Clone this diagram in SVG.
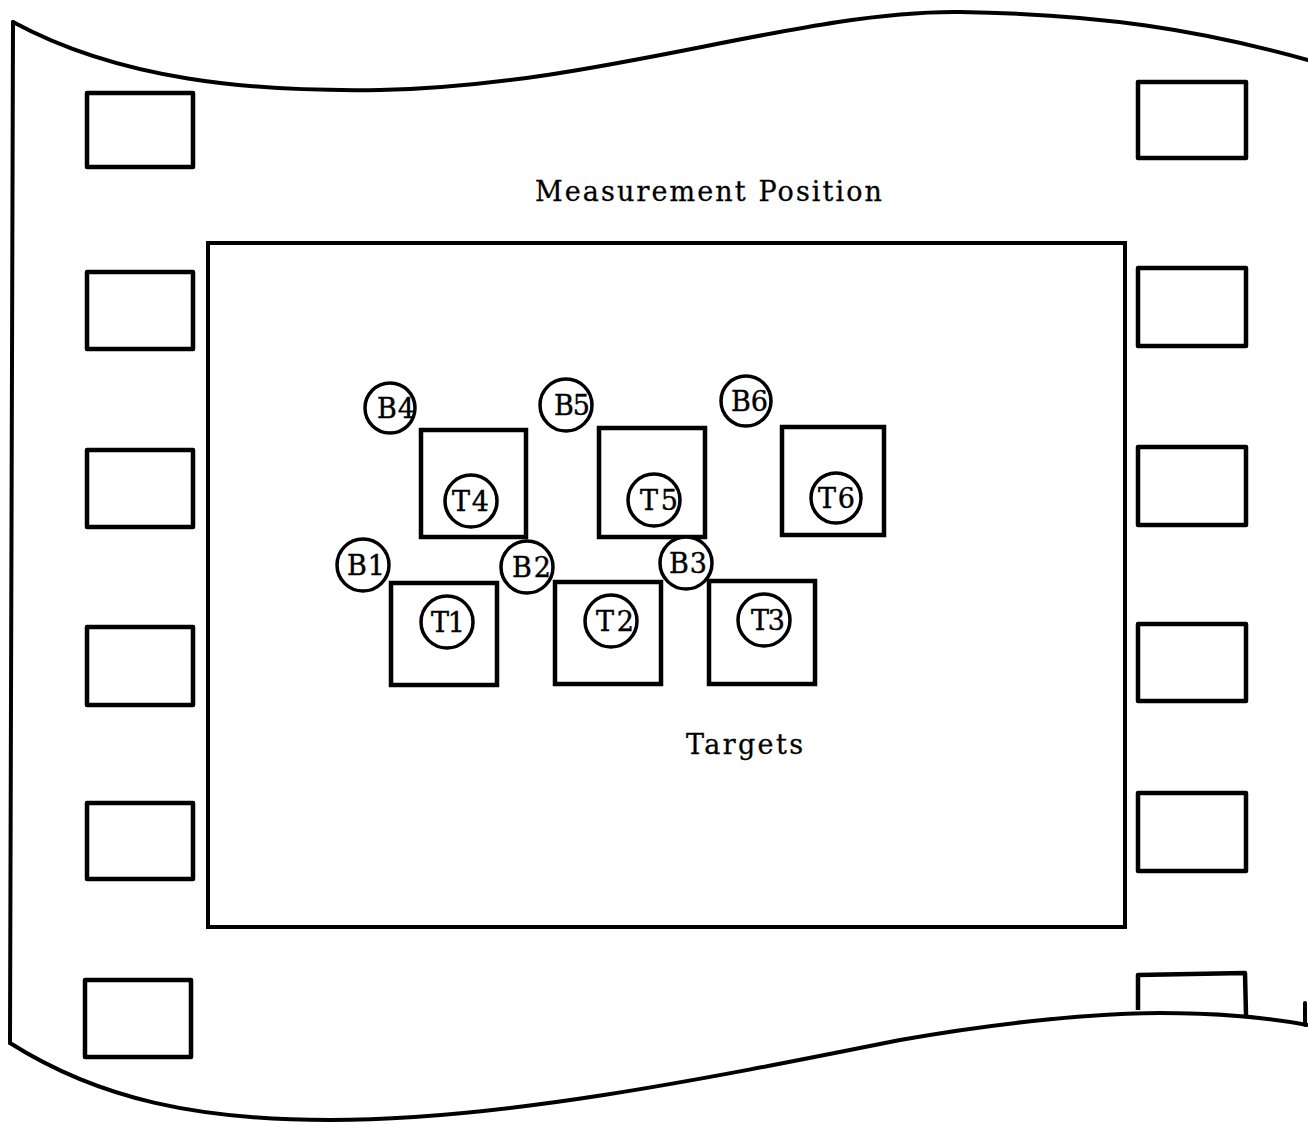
<svg xmlns="http://www.w3.org/2000/svg" width="1308" height="1124" viewBox="0 0 1308 1124">
<style>
.edge{fill:none;stroke:#000;stroke-width:4;stroke-linecap:round;stroke-linejoin:round}
.hole{fill:none;stroke:#000;stroke-width:4.5;stroke-linejoin:round}
.frame{fill:none;stroke:#000;stroke-width:4}
.sq{fill:none;stroke:#000;stroke-width:4.5}
.c{fill:#fff;stroke:#000;stroke-width:3.5}
.lbl{font-family:"DejaVu Serif","Liberation Serif",serif;font-size:27px;fill:#000;stroke:#000;stroke-width:0.4}
.cap{font-family:"DejaVu Serif","Liberation Serif",serif;font-size:27px;fill:#000;stroke:#000;stroke-width:0.3}
</style>
<rect width="1308" height="1124" fill="#fff"/>
<g id="film">
<path class="edge" d="M13,22 C120,80 250,92 380,90 C600,86 800,10 960,12 C1100,14 1200,30 1308,60"/>
<path class="edge" d="M13,22 L10,1043"/>
<path class="edge" d="M10,1043 C100,1100 200,1120 330,1120 C500,1120 700,1080 900,1040 C1000,1022 1100,1013 1160,1013 C1220,1013 1270,1018 1308,1025"/>
<path class="edge" d="M1305,1003 L1305,1025"/>
</g>
<g id="holes">
<rect class="hole" x="87" y="93" width="106" height="74"/>
<rect class="hole" x="87" y="272" width="106" height="77"/>
<rect class="hole" x="87" y="450" width="106" height="77"/>
<rect class="hole" x="87" y="627" width="106" height="78"/>
<rect class="hole" x="87" y="803" width="106" height="76"/>
<rect class="hole" x="85" y="980" width="106" height="77"/>
<rect class="hole" x="1138" y="82" width="108" height="76"/>
<rect class="hole" x="1138" y="268" width="108" height="78"/>
<rect class="hole" x="1138" y="447" width="108" height="78"/>
<rect class="hole" x="1138" y="624" width="108" height="77"/>
<rect class="hole" x="1138" y="793" width="108" height="78"/>
<path class="hole" d="M1138,1010 L1138,975 L1245,973 L1246,1015"/>
</g>
<g id="measurement-position">
<rect class="frame" x="208" y="243" width="917" height="684"/>
<text class="cap" x="535" y="201" textLength="347" lengthAdjust="spacing">Measurement Position</text>
</g>
<g id="targets-label">
<text class="cap" x="686" y="754" textLength="117" lengthAdjust="spacing">Targets</text>
</g>
<g id="T4"><rect class="sq" x="421" y="430" width="105" height="107"/><circle class="c" cx="471" cy="501" r="26"/><text class="lbl" x="452" y="511" textLength="37">T4</text></g>
<g id="T5"><rect class="sq" x="599" y="428" width="106" height="109"/><circle class="c" cx="654" cy="500" r="26"/><text class="lbl" x="640" y="510" textLength="38">T5</text></g>
<g id="T6"><rect class="sq" x="782" y="427" width="102" height="108"/><circle class="c" cx="836" cy="498" r="25"/><text class="lbl" x="818" y="508" textLength="37">T6</text></g>
<g id="T1"><rect class="sq" x="391" y="583" width="106" height="102"/><circle class="c" cx="447" cy="622" r="26"/><text class="lbl" x="431" y="632" textLength="34">T1</text></g>
<g id="T2"><rect class="sq" x="555" y="582" width="106" height="102"/><circle class="c" cx="611" cy="621" r="26"/><text class="lbl" x="596" y="631" textLength="38">T2</text></g>
<g id="T3"><rect class="sq" x="709" y="581" width="106" height="103"/><circle class="c" cx="764" cy="620" r="26"/><text class="lbl" x="751" y="630" textLength="34">T3</text></g>
<g id="B4"><circle class="c" cx="390" cy="408" r="25"/><text class="lbl" x="377" y="418" textLength="38">B4</text></g>
<g id="B5"><circle class="c" cx="566" cy="405" r="26"/><text class="lbl" x="554" y="415" textLength="36">B5</text></g>
<g id="B6"><circle class="c" cx="746" cy="401" r="25"/><text class="lbl" x="731" y="411" textLength="37">B6</text></g>
<g id="B1"><circle class="c" cx="363" cy="565" r="26"/><text class="lbl" x="347" y="575" textLength="38">B1</text></g>
<g id="B2"><circle class="c" cx="527" cy="567" r="26"/><text class="lbl" x="512" y="577" textLength="39">B2</text></g>
<g id="B3"><circle class="c" cx="686" cy="563" r="26"/><text class="lbl" x="669" y="573" textLength="38">B3</text></g>
</svg>
